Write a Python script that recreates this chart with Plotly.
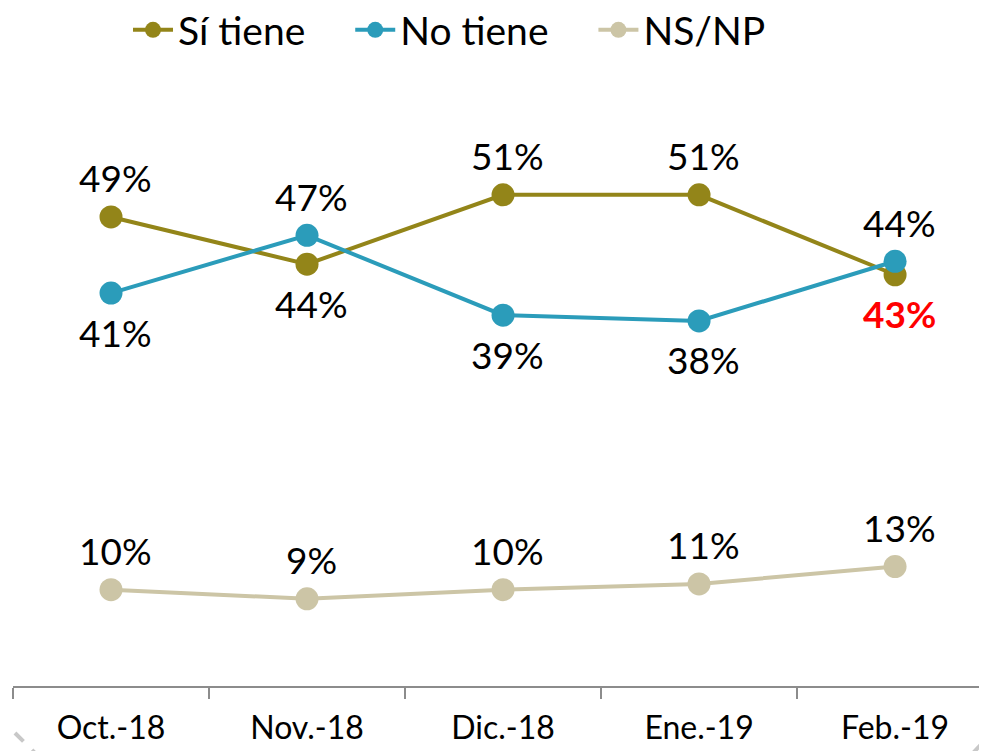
import plotly.graph_objects as go

categories = ["Oct.-18", "Nov.-18", "Dic.-18", "Ene.-19", "Feb.-19"]
si_tiene = [48.7, 43.8, 51.0, 51.0, 42.7]
no_tiene = [40.8, 46.8, 38.5, 37.9, 44.1]
ns_np = [10.0, 9.05, 10.0, 10.6, 12.4]
si_labels = ["49%", "44%", "51%", "51%", "43%"]
no_labels = ["41%", "47%", "39%", "38%", "44%"]
ns_labels = ["10%", "9%", "10%", "11%", "13%"]
si_pos = [1, -1, 1, 1, -1]
no_pos = [-1, 1, -1, -1, 1]
ns_pos = [1, 1, 1, 1, 1]

C_SI = "#938519"
C_NO = "#2B9CBA"
C_NS = "#CCC5A6"
FONT = "Lato"
GAP = "\u00a0\u00a0\u00a0\u00a0"

# page has an 8px body margin; figure coordinates = page coordinates - 8
W, H = 979, 743
ML, MR, MT, MB = 5, 0, 52, 65
PW, PH = W - ML - MR, H - MT - MB


def px(x):
    return (x - ML) / PW


def py(y):
    return (H - MB - y) / PH


fig = go.Figure()
for name, vals, col in [("Sí tiene" + GAP, si_tiene, C_SI), ("No tiene" + GAP, no_tiene, C_NO), ("NS/NP", ns_np, C_NS)]:
    fig.add_trace(go.Scatter(x=categories, y=vals, name=name, mode="lines+markers",
                             line=dict(color=col, width=4),
                             marker=dict(color=col, size=23)))

anns = []
for vals, labs, pos in [(si_tiene, si_labels, si_pos), (no_tiene, no_labels, no_pos), (ns_np, ns_labels, ns_pos)]:
    for c, v, t, p in zip(categories, vals, labs, pos):
        red = (t == "43%" and vals is si_tiene and c == "Feb.-19")
        anns.append(dict(x=c, y=v, text=f"<b>{t}</b>" if red else t, showarrow=False,
                         yshift=39 * p, xshift=4,
                         font=dict(family=FONT, size=37, color="#FF0000" if red else "#000000")))

shapes = [
    dict(type="line", xref="paper", yref="paper", x0=px(-10), y0=py(708), x1=px(27), y1=py(745),
         line=dict(color="#c8c8c8", width=4, dash="dash"), layer="above"),
    dict(type="line", xref="paper", yref="paper", x0=px(965), y0=py(745), x1=px(982), y1=py(727),
         line=dict(color="#c8c8c8", width=4, dash="dash"), layer="above"),
]

fig.update_layout(
    width=W, height=H,
    margin=dict(l=ML, r=MR, t=MT, b=MB, autoexpand=False),
    paper_bgcolor="white", plot_bgcolor="white",
    font=dict(family=FONT, color="#000000"),
    showlegend=True,
    legend=dict(orientation="h", x=px(120), xanchor="left", y=py(22), yanchor="middle",
                font=dict(family=FONT, size=39), itemwidth=40, traceorder="normal",
                bgcolor="rgba(0,0,0,0)"),
    annotations=anns,
    shapes=shapes,
    xaxis=dict(type="category", range=[-0.5, 4.469], tickson="boundaries", ticks="outside",
               ticklen=11, tickcolor="#8c8c8c", tickwidth=2, showline=True, linecolor="#8c8c8c",
               linewidth=2, showgrid=False, tickfont=dict(family=FONT, size=32, color="#000000"),
               zeroline=False, automargin=False, ticklabelstandoff=13),
    yaxis=dict(range=[0, 65], visible=False, showgrid=False, zeroline=False, automargin=False),
)

fig.write_html("out.html")
